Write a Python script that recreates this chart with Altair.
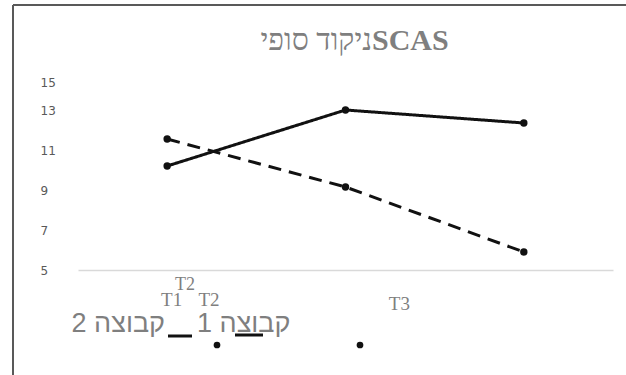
import altair as alt
import pandas as pd

# ---- data ----
times = ["T1", "T2", "T3"]
groups = ["קבוצה 1", "קבוצה 2"]
group1_values = [10.2, 13.0, 12.35]
group2_values = [11.55, 9.15, 5.9]
y_ticks = [5, 7, 9, 11, 13, 15]
title_heb = "ניקוד סופי"
title_lat = "SCAS"
extra_label = "T2"

rows = []
for g, vals in zip(groups, [group1_values, group2_values]):
    for t, v in zip(times, vals):
        rows.append({"time": t, "value": v, "group": g})
df = pd.DataFrame(rows)
one = pd.DataFrame({"a": [0]})

GRAY = "#7f7f7f"
DARK = "#595959"

x_enc = alt.X(
    "time:N",
    scale=alt.Scale(type="point", domain=times, padding=0.5),
    axis=alt.Axis(
        title=None, labelAngle=0, ticks=False, tickSize=0, grid=False,
        domain=True, domainColor="#d9d9d9", domainWidth=1.5,
        labelFont="Liberation Serif", labelFontSize=19, labelColor=GRAY,
        labelBaseline="alphabetic", labelAlign="center",
        labelPadding={"condition": {"test": "datum.value === 'T3'", "value": 39}, "value": 35},
        labelOffset={"condition": [
            {"test": "datum.value === 'T1'", "value": 4},
            {"test": "datum.value === 'T2'", "value": -137},
            {"test": "datum.value === 'T3'", "value": -125}], "value": 0},
    ),
)
y_enc = alt.Y(
    "value:Q",
    scale=alt.Scale(domain=[5, 15], nice=False, zero=False),
    axis=alt.Axis(
        title=None, values=y_ticks, grid=False, domain=False, ticks=False, tickSize=0,
        labelAlign="left", labelPadding=38, labelBaseline="middle",
        labelFont="DejaVu Sans", labelFontSize=12, labelColor=DARK,
        labelOffset={"condition": {"test": "datum.value === 15", "value": 12}, "value": 0},
    ),
)
dash = alt.StrokeDash("group:N", scale=alt.Scale(domain=groups, range=[[1, 0], [13, 8]]), legend=None)

base = alt.Chart(df)
lines = base.mark_line(strokeWidth=3, color="#111111").encode(x=x_enc, y=y_enc, strokeDash=dash, detail="group:N")
points = base.mark_circle(size=55, color="#111111", opacity=1).encode(x=x_enc, y=y_enc)

ann = alt.Chart(one)
frame_left = ann.mark_rule(color=DARK, strokeWidth=2).encode(x=alt.value(-65), y=alt.value(-65), y2=alt.value(305))
frame_top = ann.mark_rule(color=DARK, strokeWidth=2).encode(x=alt.value(-65), x2=alt.value(548), y=alt.value(-65))

t_heb = ann.mark_text(text=title_heb, font="Liberation Serif", fontSize=30, color=GRAY,
                      align="right", baseline="alphabetic").encode(x=alt.value(294), y=alt.value(-20))
t_lat = ann.mark_text(text=title_lat, font="Liberation Serif", fontSize=30, fontWeight="bold", color=GRAY,
                      align="left", baseline="alphabetic").encode(x=alt.value(294), y=alt.value(-20))

sup = ann.mark_text(text=extra_label, font="Liberation Serif", fontSize=18, color=GRAY,
                    align="center", baseline="alphabetic").encode(x=alt.value(107), y=alt.value(220))

leg2 = ann.mark_text(text=groups[1], font="Liberation Sans", fontSize=27, color=GRAY,
                     align="right", baseline="alphabetic").encode(x=alt.value(87), y=alt.value(262))
leg1 = ann.mark_text(text=groups[0], font="Liberation Sans", fontSize=27, color=GRAY,
                     align="left", baseline="alphabetic").encode(x=alt.value(119), y=alt.value(262))
sw1 = ann.mark_rule(color="#111111", strokeWidth=3).encode(x=alt.value(90), x2=alt.value(114), y=alt.value(266))
sw2 = ann.mark_rule(color="#111111", strokeWidth=3).encode(x=alt.value(157), x2=alt.value(185), y=alt.value(265))
dot1 = ann.mark_circle(size=45, color="#111111", opacity=1).encode(x=alt.value(139), y=alt.value(275))
dot2 = ann.mark_circle(size=45, color="#111111", opacity=1).encode(x=alt.value(282), y=alt.value(275))

chart = alt.layer(
    lines, points, frame_left, frame_top, t_heb, t_lat, sup, leg2, leg1, sw1, sw2, dot1, dot2
).properties(
    width=535, height=200,
    autosize=alt.AutoSizeParams(type="none"),
    padding={"left": 78, "top": 70, "right": 13, "bottom": 105},
    background="white",
).configure_view(stroke=None)

chart.save("out.html", embed_options={"renderer": "svg", "actions": False})
